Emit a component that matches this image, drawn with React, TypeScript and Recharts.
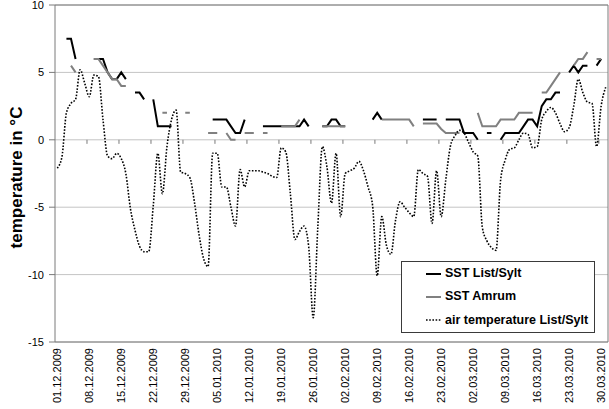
import React from 'react';
import { LineChart, Line, XAxis, YAxis, CartesianGrid, ReferenceLine, Legend } from 'recharts';

// day index counted from 01.12.2009 (0) to 31.03.2010 (120)
const tickDays = [0, 7, 14, 21, 28, 35, 42, 49, 56, 63, 70, 77, 84, 91, 98, 105, 112, 119];
const tickLabels = [
  '01.12.2009', '08.12.2009', '15.12.2009', '22.12.2009', '29.12.2009', '05.01.2010',
  '12.01.2010', '19.01.2010', '26.01.2010', '02.02.2010', '09.02.2010', '16.02.2010',
  '23.02.2010', '02.03.2010', '09.03.2010', '16.03.2010', '23.03.2010', '30.03.2010',
];
const tickBoundaries = [6.5, 13.5, 20.5, 27.5, 34.5, 41.5, 48.5, 55.5, 62.5, 69.5, 76.5, 83.5, 90.5, 97.5, 104.5, 111.5, 118.5];
const yTicks = [-15, -10, -5, 0, 5, 10];

const sstList: (number | null)[] = [
  null, null, 7.5, 7.5, 6.0, null, null, null, 6.0, 6.0,
  6.0, 5.0, 4.5, 4.5, 5.0, 4.5, null, 3.5, 3.5, 3.0,
  null, 3.0, 1.0, 1.0, 1.0, 1.0, null, null, null, null,
  null, null, null, null, 1.5, 1.5, 1.5, 1.5, 1.0, 0.5,
  0.5, 1.5, null, null, null, 1.0, 1.0, 1.0, 1.0, 1.0,
  1.0, 1.0, 1.0, 1.0, 1.5, 1.0, null, null, 1.0, 1.0,
  1.5, 1.5, 1.0, 1.0, null, null, null, null, null, 1.5,
  2.0, 1.5, null, null, null, null, null, null, null, null,
  1.5, 1.5, 1.5, 1.5, null, 1.5, 1.5, 1.5, 1.5, 0.5,
  0.5, 0.5, 0.0, null, 0.5, 0.5, null, 0.0, 0.5, 0.5,
  0.5, 0.5, 1.0, 1.5, 1.5, 1.0, 2.5, 3.0, 3.0, 3.5,
  3.5, null, 5.0, 5.5, 5.0, 5.5, 5.5, null, 5.5, 6.0,
  null,
];

const sstAmrum: (number | null)[] = [
  null, null, null, 5.5, 5.0, null, null, null, 6.0, 6.0,
  5.5, 5.0, 4.5, 4.5, 4.0, 4.0, null, null, null, null,
  null, null, null, 2.0, 2.0, null, null, null, 2.0, 2.0,
  null, null, null, 0.5, 0.5, 0.5, null, 0.5, 0.0, 0.0,
  null, 0.5, 0.5, 0.5, null, 0.5, 0.5, null, null, 1.0,
  1.0, 1.0, 1.0, 1.5, null, null, null, null, 1.0, 1.0,
  1.0, 1.0, 1.0, 1.0, null, null, null, null, null, null,
  null, 1.5, 1.5, 1.5, 1.5, 1.5, 1.5, 1.5, 1.0, null,
  1.2, 1.2, 1.2, 1.2, 0.8, 0.5, 0.5, 0.5, 0.5, null,
  null, null, 2.0, 1.0, 1.0, 1.0, 1.0, 1.5, 1.5, 1.5,
  1.5, 2.0, 2.0, 2.0, 2.0, null, 3.5, 3.5, 4.0, 4.5,
  5.0, null, null, 5.5, 6.0, 6.0, 6.5, null, 6.0, 6.0,
  null,
];

const airTemp: number[] = [
  -2.1, -1.3, 2.0, 2.7, 3.0, 5.2, 4.2, 3.2, 4.8, 4.7,
  1.5, -1.2, -1.4, -1.0, -1.4, -2.5, -5.1, -6.7, -7.9, -8.3,
  -8.3, -4.9, -1.0, -4.0, -0.5, 1.5, 2.2, -2.4, -2.5, -2.8,
  -4.6, -7.0, -8.8, -9.4, -1.0, -1.0, -3.5, -3.5, -5.0, -6.4,
  -2.2, -3.5, -2.3, -2.3, -2.3, -2.4, -2.5, -2.7, -2.8, -0.6,
  -0.9, -4.0, -7.4, -6.8, -6.4, -7.9, -13.2, -6.5, -0.5, -2.0,
  -4.7, -1.0, -5.7, -2.5, -2.3, -2.1, -1.6, -2.3, -3.5, -4.9,
  -10.1, -5.7, -7.8, -8.5, -6.0, -4.6, -5.0, -5.4, -5.7, -2.2,
  -2.5, -2.7, -6.2, -2.3, -5.7, -3.0, -0.5, 0.3, 0.7, 0.5,
  -0.2, -0.9, -1.2, -6.5, -7.5, -8.0, -8.2, -3.0, -1.5, -0.7,
  -0.6, 0.0, 0.5, 0.4, -0.6, -0.5, 1.5, 2.1, 2.4, 2.0,
  1.2, 0.6, 0.9, 2.5, 4.5, 3.5, 2.8, 2.7, -0.5, 2.5,
  3.9,
];

const seriesNames = ['SST List/Sylt', 'SST Amrum', 'air temperature List/Sylt'];

const data = airTemp.map((v, i) => ({
  day: i,
  list: sstList[i],
  amrum: sstAmrum[i],
  air: v,
}));

const FONT = '"Liberation Sans", Arial, sans-serif';
const BORDER = '#7a7a7a';
const GRID = '#c4c4c4';

const DateTick = (props: any) => {
  const { x, y, payload } = props;
  const idx = tickDays.indexOf(payload.value);
  const label = idx >= 0 ? tickLabels[idx] : '';
  return (
    <text
      x={x}
      y={y}
      transform={`rotate(-90, ${x}, ${y})`}
      textAnchor="end"
      dy="0.35em"
      fontSize={11}
      fontFamily={FONT}
      fill="#000"
    >
      {label}
    </text>
  );
};

const YTitle = (props: any) => {
  const vb = props.viewBox || { x: 0, y: 0, width: 55, height: 337 };
  const cx = vb.x + 16;
  const cy = vb.y + vb.height / 2 + 4;
  return (
    <text
      x={cx}
      y={cy}
      transform={`rotate(-90, ${cx}, ${cy})`}
      textAnchor="middle"
      dominantBaseline="central"
      fontSize={17}
      fontWeight="bold"
      fontFamily={FONT}
      fill="#000"
    >
      temperature in °C
    </text>
  );
};

const legendStyles = [
  { color: '#000000', dash: undefined as string | undefined },
  { color: '#808080', dash: undefined as string | undefined },
  { color: '#000000', dash: '1.6 1.6' },
];

const renderLegend = () => (
  <div
    style={{
      width: 194,
      height: 72,
      boxSizing: 'border-box',
      border: '1px solid #3a3a3a',
      background: '#fff',
      fontFamily: FONT,
      fontWeight: 'bold',
      fontSize: 12.5,
      color: '#000',
    }}
  >
    {seriesNames.map((name, i) => (
      <div key={name} style={{ height: 23.3, display: 'flex', alignItems: 'center', position: 'relative' }}>
        <svg width={16} height={6} style={{ position: 'absolute', left: 24, top: 8.5 }}>
          <line
            x1={0}
            y1={3}
            x2={15}
            y2={3}
            stroke={legendStyles[i].color}
            strokeWidth={legendStyles[i].dash ? 1.6 : 2}
            strokeDasharray={legendStyles[i].dash}
          />
        </svg>
        <span style={{ position: 'absolute', left: 43, top: 4, whiteSpace: 'nowrap' }}>{name}</span>
      </div>
    ))}
  </div>
);

export default function App() {
  return (
    <div style={{ position: 'absolute', left: 0, top: 0, width: 609, height: 409, background: '#fff' }}>
      <LineChart width={609} height={409} data={data} margin={{ top: 5, right: 1, bottom: 7, left: 0 }}>
        <CartesianGrid vertical={false} stroke={GRID} strokeWidth={1} />
        <XAxis
          type="number"
          dataKey="day"
          domain={[-0.5, 120.5]}
          ticks={tickDays}
          interval={0}
          height={60}
          tickLine={false}
          tickSize={0}
          tickMargin={6}
          axisLine={{ stroke: BORDER }}
          tick={<DateTick />}
        />
        <YAxis
          type="number"
          domain={[-15, 10]}
          ticks={yTicks}
          interval={0}
          width={55}
          tickSize={6}
          tickMargin={5}
          axisLine={{ stroke: BORDER }}
          tickLine={{ stroke: BORDER }}
          tick={{ fontSize: 11, fontFamily: FONT, fill: '#000' }}
          label={{ content: <YTitle /> }}
        />
        <ReferenceLine y={10} stroke={BORDER} />
        <ReferenceLine x={120.5} stroke={BORDER} />
        {tickBoundaries.map((b) => (
          <ReferenceLine
            key={b}
            segment={[{ x: b, y: 0 }, { x: b, y: -0.3 }]}
            stroke={BORDER}
          />
        ))}
        <Legend
          layout="horizontal"
          verticalAlign="middle"
          align="center"
          content={renderLegend}
          wrapperStyle={{ left: 401, top: 261, width: 194, height: 72 }}
        />
        <Line
          type="linear"
          dataKey="list"
          name={seriesNames[0]}
          stroke="#000000"
          strokeWidth={2}
          dot={false}
          activeDot={false}
          connectNulls={false}
          isAnimationActive={false}
        />
        <Line
          type="linear"
          dataKey="amrum"
          name={seriesNames[1]}
          stroke="#808080"
          strokeWidth={2}
          dot={false}
          activeDot={false}
          connectNulls={false}
          isAnimationActive={false}
        />
        <Line
          type="monotone"
          dataKey="air"
          name={seriesNames[2]}
          stroke="#000000"
          strokeWidth={1.6}
          strokeDasharray="1.6 1.6"
          dot={false}
          activeDot={false}
          isAnimationActive={false}
        />
      </LineChart>
    </div>
  );
}
